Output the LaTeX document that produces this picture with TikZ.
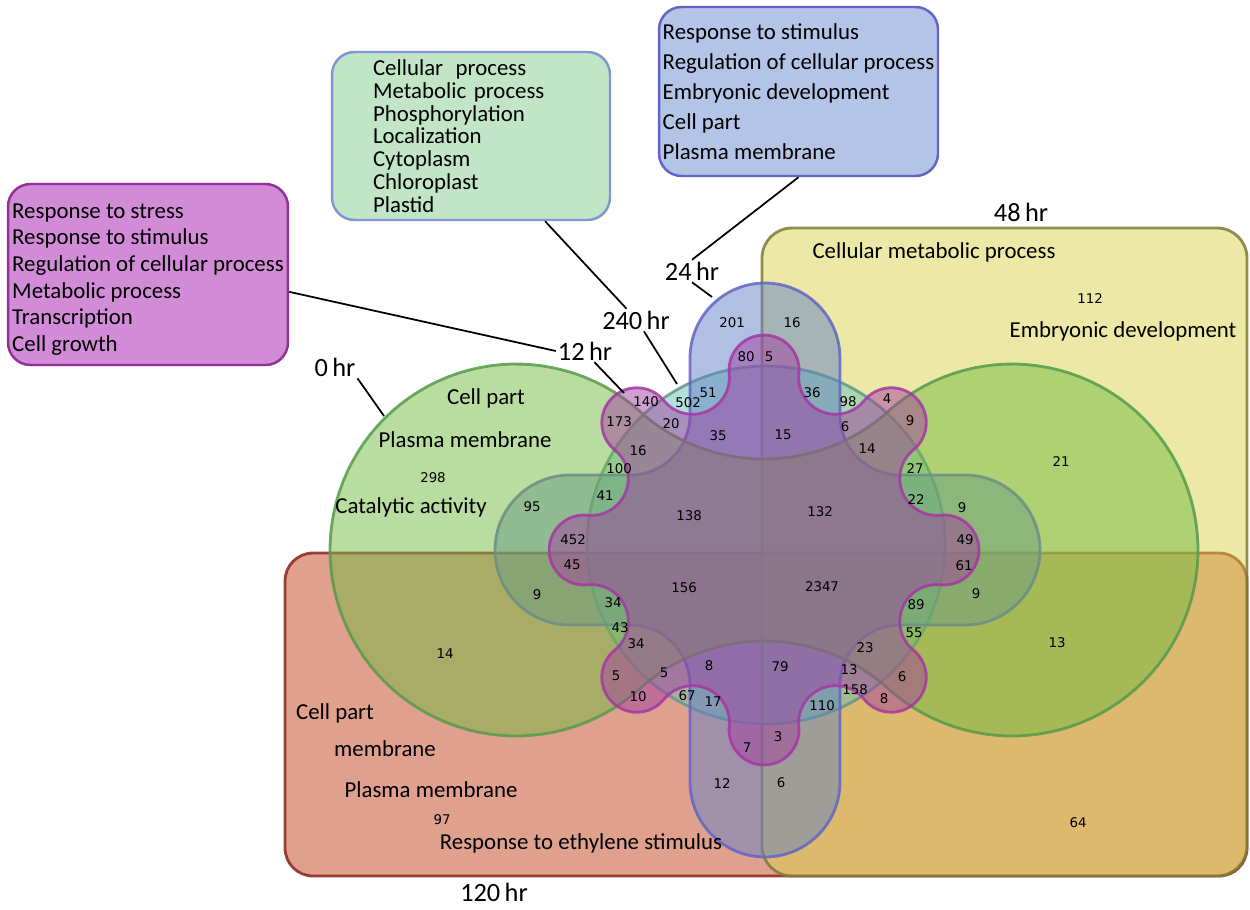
\documentclass[tikz,border=0pt]{standalone}
\usepackage{fontspec}
\setmainfont{Carlito}
\newfontfamily\numfont{DejaVu Sans}
\usetikzlibrary{positioning}

\definecolor{redfill}{RGB}{191,65,29}
\definecolor{redline}{RGB}{140,35,30}
\definecolor{yellowfill}{RGB}{217,211,77}
\definecolor{yellowline}{RGB}{128,122,55}
\definecolor{greenfill}{RGB}{115,185,65}
\definecolor{greenline}{RGB}{85,155,75}
\definecolor{tealfill}{RGB}{107,193,181}
\definecolor{tealline}{RGB}{100,150,140}
\definecolor{bluefill}{RGB}{99,129,197}
\definecolor{blueline}{RGB}{100,100,200}
\definecolor{purplefill}{RGB}{160,65,160}
\definecolor{purpleline}{RGB}{165,55,165}

\tikzset{
  set/.style={line width=1.6pt, fill opacity=.5, draw opacity=.85},
  hr120/.style={set, draw=redline, fill=redfill, rounded corners=.56cm},
  hr48/.style={set, draw=yellowline, fill=yellowfill, rounded corners=.6cm},
  hr0/.style={set, draw=greenline, fill=greenfill},
  hr240/.style={set, draw=tealline, fill=tealfill},
  hr24/.style={set, draw=blueline, fill=bluefill},
  hr12/.style={set, draw=purpleline, fill=purplefill},
  num/.style={font=\numfont\fontsize{7.6}{9}\selectfont, inner sep=0pt},
  term/.style={font=\fontsize{13}{15}\selectfont, inner sep=0pt},
  hrlbl/.style={font=\fontsize{15}{17}\selectfont, inner sep=1pt},
  callout/.style={line width=1.4pt, rounded corners=.45cm, align=left, inner sep=0pt},
  conn/.style={line width=1pt, black}
}

\begin{document}
\begin{tikzpicture}[x=0.02cm, y=-0.02cm]
\useasboundingbox (0,0) rectangle (1250,909);

% the six sets
\draw[hr120] (285,553) rectangle (1247,876);
\draw[hr48] (762,228) rectangle (1247,876);
\draw[hr240] (766,545) circle[radius=3.58cm];
\draw[hr24] (690,358) arc[start angle=-180, end angle=-360, radius=1.5cm] -- (840,415)
  arc[start angle=-180, end angle=-90, radius=1.2cm] -- (965,475)
  arc[start angle=-270, end angle=-450, radius=1.5cm] -- (900,625)
  arc[start angle=-270, end angle=-180, radius=1.2cm] -- (840,782)
  arc[start angle=0, end angle=-180, radius=1.5cm] -- (690,685)
  arc[start angle=0, end angle=90, radius=1.2cm] -- (570,625)
  arc[start angle=-90, end angle=-270, radius=1.5cm] -- (630,475)
  arc[start angle=-90, end angle=0, radius=1.2cm] -- cycle;
\draw[hr0] plot[domain=48.2:311.8, samples=80, variable=\t] ({516+186*cos(\t)},{550+186*sin(\t)})
  -- plot[domain=131.8:48.2, samples=40, variable=\t] ({764+186*cos(\t)},{273+186*sin(\t)})
  -- plot[domain=228.2:491.8, samples=80, variable=\t] ({1012+186*cos(\t)},{550+186*sin(\t)})
  -- plot[domain=311.8:228.2, samples=40, variable=\t] ({764+186*cos(\t)},{827+186*sin(\t)}) -- cycle;
\draw[hr12] (940.43,515.18)
  \foreach \k [evaluate=\k as \angA using 95.85-45*\k, evaluate=\k as \angB using -95.85-45*\k,
    evaluate=\k as \angC using -275.85-45*\k, evaluate=\k as \angD using -129.15-45*\k] in {0,...,7}
  { arc[start angle=\angA, end angle=\angB, radius=.7cm]
    arc[start angle=\angC, end angle=\angD, radius=.738cm] } -- cycle;

% counts
\foreach \v/\px/\py [count=\i] in {201/732/323, 16/792/323, 80/746/357, 5/769/357,
  51/708/393, 502/688/403, 140/646/402, 173/619/422, 20/671/424, 35/718/436,
  15/783/435, 36/812/393, 98/848/402, 4/887/399, 6/845/427, 9/910/421, 14/867/449,
  16/638/451, 100/619/469, 27/915/469, 41/605/496, 95/532/507, 138/689/516,
  132/820/512, 22/916/500, 9/962/508, 452/573/540, 49/965/540, 45/572/565,
  61/964/566, 156/684/588, 2347/822/587, 9/537/595, 9/976/594, 34/613/603,
  89/916/605, 43/620/628, 55/914/633, 34/636/644, 23/865/648, 5/616/676,
  5/664/673, 8/709/666, 79/780/667, 13/849/670, 6/902/677, 10/638/697,
  67/687/696, 17/713/702, 158/855/690, 8/884/699, 110/822/706, 3/778/737,
  7/747/748, 12/722/784, 6/781/783, 298/433/478, 14/445/654, 21/1061/462,
  13/1057/643, 112/1090/299, 97/442/820, 64/1078/823}
  \node[num] (n\i) at (\px,\py) {\v};

% GO terms
\foreach \s/\px/\py [count=\i] in {Cell part/486/398, Plasma membrane/465/440,
  Catalytic activity/411/507, Cellular metabolic process/934/252,
  Embryonic development/1123/331, Cell part/335/713, membrane/385/749,
  Plasma membrane/431/790, Response to ethylene stimulus/581/843}
  \node[term] (t\i) at (\px,\py) {\s};

% callouts
\node[callout, draw=purpleline!90!black, fill={rgb,255:red,210;green,140;blue,215},
  minimum width=5.6cm, minimum height=3.62cm, font=\fontsize{13}{15.2}\selectfont]
  (box12) at (148,274.5) {\rule{0pt}{14pt}Response to stress\\Response to stimulus\\Regulation of cellular process\\Metabolic process\\Transcription\\Cell growth};
\node[callout, draw={rgb,255:red,128;green,150;blue,210}, fill={rgb,255:red,194;green,229;blue,200},
  minimum width=5.56cm, minimum height=3.36cm, text width=3.92cm, font=\fontsize{13}{13}\selectfont]
  (box240) at (471,136) {Cellular\hspace{.55em}process\\Metabolic process\\Phosphorylation\\Localization\\Cytoplasm\\Chloroplast\\Plastid};
\node[callout, draw=blueline, fill={rgb,255:red,180;green,196;blue,230},
  minimum width=5.58cm, minimum height=3.38cm, font=\fontsize{13}{17}\selectfont]
  (box24) at (798.5,91.5) {Response to stimulus\\Regulation of cellular process\\Embryonic development\\Cell part\\Plasma membrane};

% time points
\node[hrlbl] (lbl0) at (335,367) {0\,hr};
\node[hrlbl] (lbl12) at (585,351) {12\,hr};
\node[hrlbl] (lbl240) at (636,320) {240\,hr};
\node[hrlbl] (lbl24) at (692,271) {24\,hr};
\node[hrlbl] (lbl48) at (1021,212) {48\,hr};
\node[hrlbl] (lbl120) at (494,892) {120\,hr};

\coordinate (end0) at (384,416);
\coordinate (end12) at (624,393);
\coordinate (end240) at (677,384);
\coordinate (end24) at (712,297);

\draw[conn] (lbl0.south east) -- (end0);
\draw[conn] (box12.-7) -- (lbl12.west);
\draw[conn] (lbl12.-50) -- (end12);
\draw[conn] (box240.-49) -- (lbl240.130);
\draw[conn] (lbl240.-55) -- (end240);
\draw[conn] (box24.south) -- (lbl24.north);
\draw[conn] (lbl24.south) -- (end24);
\end{tikzpicture}
\end{document}
